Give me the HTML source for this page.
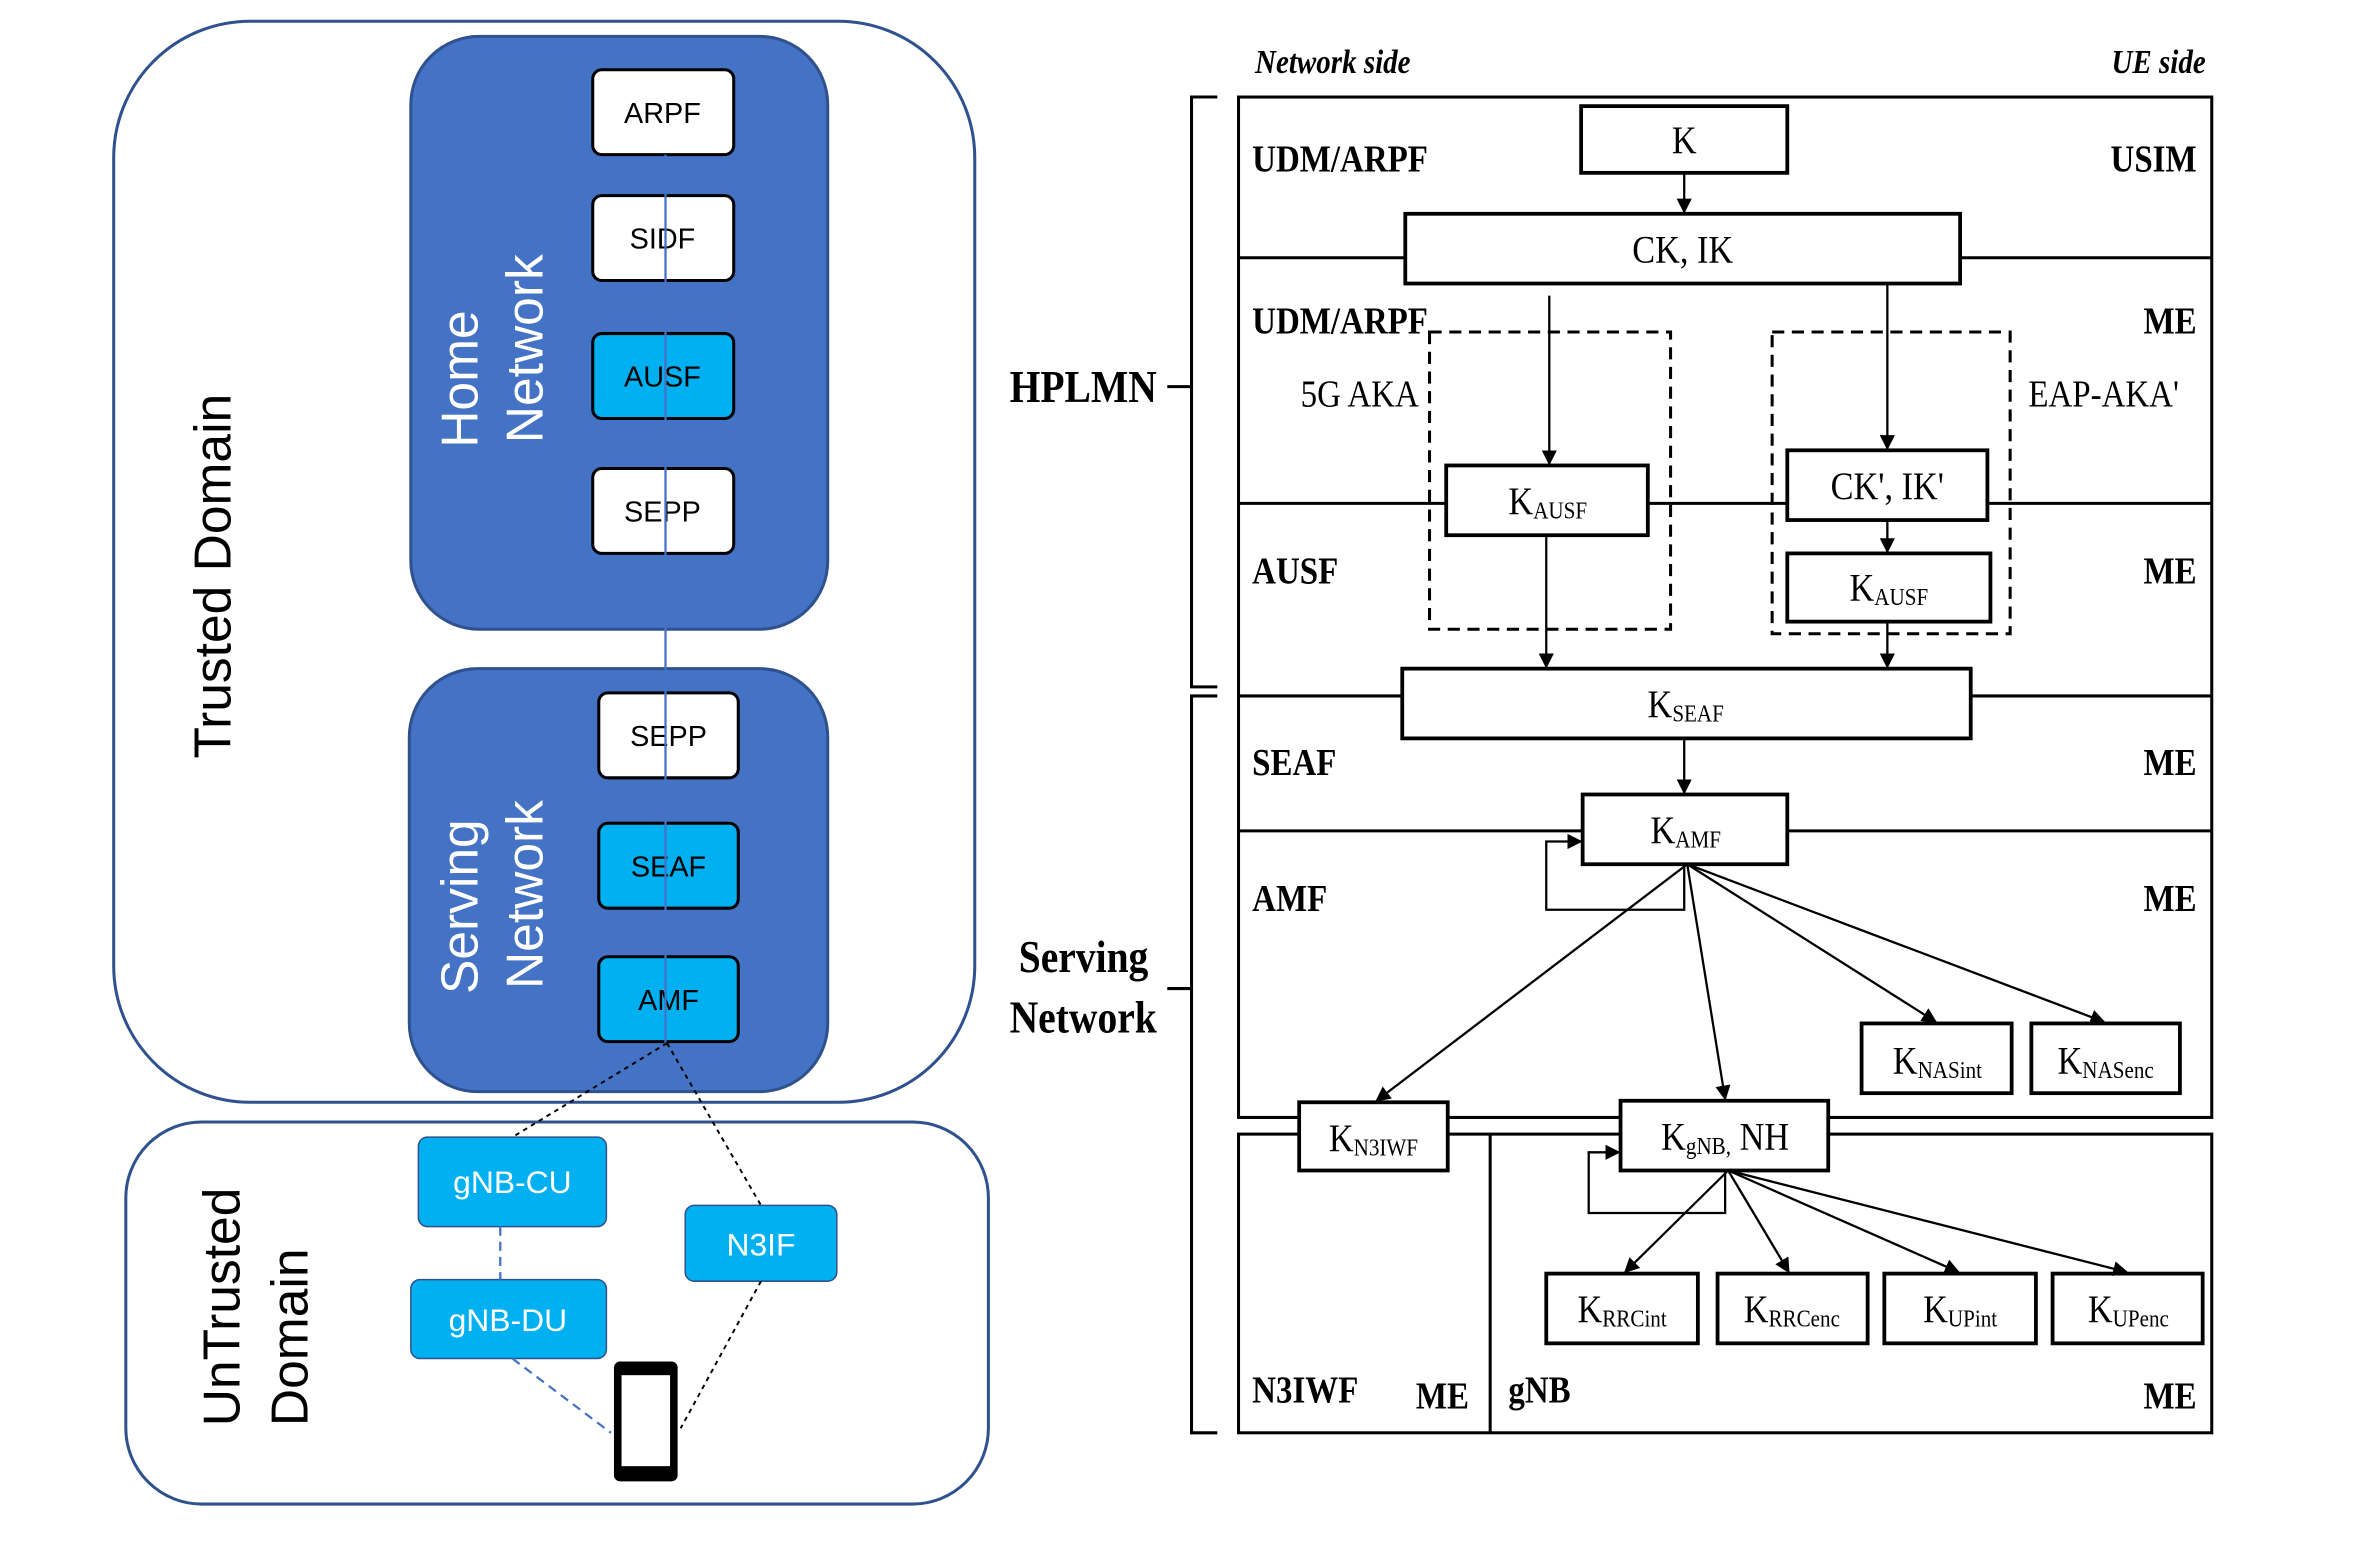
<!DOCTYPE html>
<html><head><meta charset="utf-8"><style>
html,body{margin:0;padding:0;background:#fff;}
svg{display:block;}
.s{font-family:"Liberation Sans",sans-serif;}
.r{font-family:"Liberation Serif",serif;}
.r text{transform-box:fill-box;transform:scaleX(0.87);}
.r text.l{transform-origin:left center;}
.r text.m{transform-origin:center center;}
.r text.e{transform-origin:right center;}
</style></head><body>
<svg width="2377" height="1545" viewBox="0 0 1568 1019" preserveAspectRatio="none" xmlns="http://www.w3.org/2000/svg">
<defs>
<marker id="a" markerWidth="10" markerHeight="10" refX="9" refY="5" orient="auto" markerUnits="userSpaceOnUse"><path d="M0,0 L10,5 L0,10 z" fill="#000"/></marker>
</defs>
<!-- LEFT -->
<rect x="75" y="14" width="568" height="713" rx="90" fill="#fff" stroke="#2F528F" stroke-width="2"/>
<rect x="271" y="24" width="275" height="391" rx="45" fill="#4472C4" stroke="#2F528F" stroke-width="2"/>
<rect x="270" y="441" width="276" height="279" rx="45" fill="#4472C4" stroke="#2F528F" stroke-width="2"/>
<g class="s" font-size="19" text-anchor="middle" stroke-width="2">
<rect x="391" y="46" width="93" height="56" rx="6" fill="#fff" stroke="#000"/><text x="437" y="81">ARPF</text>
<rect x="391" y="129" width="93" height="56" rx="6" fill="#fff" stroke="#000"/><text x="437" y="164">SIDF</text>
<rect x="391" y="220" width="93" height="56" rx="6" fill="#00B0F0" stroke="#000"/><text x="437" y="255">AUSF</text>
<rect x="391" y="309" width="93" height="56" rx="6" fill="#fff" stroke="#000"/><text x="437" y="344">SEPP</text>
<rect x="395" y="457" width="92" height="56" rx="6" fill="#fff" stroke="#000"/><text x="441" y="492">SEPP</text>
<rect x="395" y="543" width="92" height="56" rx="6" fill="#00B0F0" stroke="#000"/><text x="441" y="578">SEAF</text>
<rect x="395" y="631" width="92" height="56" rx="6" fill="#00B0F0" stroke="#000"/><text x="441" y="666">AMF</text>
</g>
<line x1="439" y1="102" x2="439" y2="690" stroke="#4472C4" stroke-width="1.5"/>
<g class="s" fill="#fff" font-size="34" text-anchor="middle">
<text transform="translate(315,250) rotate(-90)">Home</text>
<text transform="translate(358,230) rotate(-90)">Network</text>
<text transform="translate(315,598) rotate(-90)">Serving</text>
<text transform="translate(358,590) rotate(-90)">Network</text>
</g>
<text class="s" font-size="34" text-anchor="middle" transform="translate(152,380) rotate(-90)">Trusted Domain</text>
<rect x="83" y="740" width="569" height="252" rx="50" fill="#fff" stroke="#2F528F" stroke-width="2"/>
<g class="s" font-size="34" text-anchor="middle">
<text transform="translate(158,862) rotate(-90)">UnTrusted</text>
<text transform="translate(203,882) rotate(-90)">Domain</text>
</g>
<g class="s" font-size="21" fill="#fff" text-anchor="middle">
<rect x="276" y="750" width="124" height="59" rx="6" fill="#00B0F0" stroke="#2F528F"/><text x="338" y="787">gNB-CU</text>
<rect x="271" y="844" width="129" height="52" rx="6" fill="#00B0F0" stroke="#2F528F"/><text x="335" y="878">gNB-DU</text>
<rect x="452" y="795" width="100" height="50" rx="6" fill="#00B0F0" stroke="#2F528F"/><text x="502" y="828">N3IF</text>
</g>
<g stroke="#000" stroke-width="1.3" stroke-dasharray="3,3" fill="none">
<line x1="440" y1="688" x2="338" y2="750"/>
<line x1="440" y1="688" x2="502" y2="795"/>
<line x1="502" y1="845" x2="449" y2="942"/>
</g>
<g stroke="#4472C4" stroke-width="1.5" stroke-dasharray="6,4" fill="none">
<line x1="330" y1="809" x2="330" y2="844"/>
<line x1="338" y1="896" x2="403" y2="945"/>
</g>
<rect x="405" y="898" width="42" height="79" rx="4" fill="#000"/>
<rect x="410" y="907" width="32" height="60" fill="#fff"/>
<!-- RIGHT -->
<g class="r" font-style="italic" font-weight="bold" font-size="22">
<text class="l" x="828" y="48">Network side</text>
<text class="e" x="1455" y="48" text-anchor="end">UE side</text>
</g>
<g stroke="#000" stroke-width="2" fill="none">
<rect x="817" y="64" width="642" height="673"/>
<rect x="817" y="748" width="642" height="197"/>
<line x1="983" y1="748" x2="983" y2="945"/>
<line x1="817" y1="170" x2="1459" y2="170"/>
<line x1="817" y1="332" x2="1459" y2="332"/>
<line x1="817" y1="459" x2="925" y2="459"/>
<line x1="1300" y1="459" x2="1459" y2="459"/>
<line x1="817" y1="548" x2="1459" y2="548"/>
<polyline points="803,64 786,64 786,453 803,453"/>
<line x1="770" y1="255" x2="786" y2="255"/>
<polyline points="803,459 786,459 786,945 803,945"/>
<line x1="770" y1="652" x2="786" y2="652"/>
</g>
<g stroke="#000" stroke-width="2" stroke-dasharray="8,5" fill="none">
<rect x="943" y="219" width="159" height="196"/>
<rect x="1169" y="219" width="157" height="199"/>
</g>
<g stroke="#000" stroke-width="2.5" fill="#fff">
<rect x="1043" y="70" width="136" height="44"/>
<rect x="927" y="141" width="366" height="46"/>
<rect x="954" y="307" width="133" height="46"/>
<rect x="1179" y="297" width="132" height="46"/>
<rect x="1179" y="365" width="134" height="45"/>
<rect x="925" y="441" width="375" height="46"/>
<rect x="1044" y="524" width="135" height="46"/>
<rect x="1228" y="675" width="99" height="46"/>
<rect x="1340" y="675" width="98" height="46"/>
<rect x="857" y="727" width="98" height="45"/>
<rect x="1069" y="726" width="137" height="46"/>
<rect x="1020" y="840" width="100" height="46"/>
<rect x="1133" y="840" width="99" height="46"/>
<rect x="1243" y="840" width="100" height="46"/>
<rect x="1354" y="840" width="99" height="46"/>
</g>
<g stroke="#000" stroke-width="1.5" fill="none" marker-end="url(#a)">
<line x1="1111" y1="114" x2="1111" y2="140"/>
<line x1="1022" y1="195" x2="1022" y2="306"/>
<line x1="1245" y1="187" x2="1245" y2="296"/>
<line x1="1245" y1="343" x2="1245" y2="364"/>
<line x1="1020" y1="353" x2="1020" y2="440"/>
<line x1="1245" y1="410" x2="1245" y2="440"/>
<line x1="1111" y1="487" x2="1111" y2="523"/>
<polyline points="1111,570 1111,600 1020,600 1020,555 1043,555"/>
<line x1="1113" y1="570" x2="908" y2="726"/>
<line x1="1113" y1="570" x2="1138" y2="725"/>
<line x1="1113" y1="570" x2="1277" y2="674"/>
<line x1="1113" y1="570" x2="1388" y2="674"/>
<polyline points="1138,772 1138,800 1048,800 1048,760 1068,760"/>
<line x1="1140" y1="772" x2="1072" y2="839"/>
<line x1="1140" y1="772" x2="1180" y2="839"/>
<line x1="1140" y1="772" x2="1292" y2="839"/>
<line x1="1140" y1="772" x2="1403" y2="839"/>
</g>
<g class="r" font-size="26" text-anchor="middle">
<text class="m" x="1111" y="101">K</text>
<text class="m" x="1110" y="173">CK, IK</text>
<text class="m" x="1021" y="339">K<tspan font-size="16" dy="3">AUSF</tspan></text>
<text class="m" x="1245" y="329">CK', IK'</text>
<text class="m" x="1246" y="396">K<tspan font-size="16" dy="3">AUSF</tspan></text>
<text class="m" x="1112" y="473">K<tspan font-size="16" dy="3">SEAF</tspan></text>
<text class="m" x="1112" y="556">K<tspan font-size="16" dy="3">AMF</tspan></text>
<text class="m" x="1278" y="708">K<tspan font-size="16" dy="3">NASint</tspan></text>
<text class="m" x="1389" y="708">K<tspan font-size="16" dy="3">NASenc</tspan></text>
<text class="m" x="906" y="759">K<tspan font-size="16" dy="3">N3IWF</tspan></text>
<text class="m" x="1138" y="758">K<tspan font-size="16" dy="3">gNB,</tspan><tspan dy="-3"> NH</tspan></text>
<text class="m" x="1070" y="872">K<tspan font-size="16" dy="3">RRCint</tspan></text>
<text class="m" x="1182" y="872">K<tspan font-size="16" dy="3">RRCenc</tspan></text>
<text class="m" x="1293" y="872">K<tspan font-size="16" dy="3">UPint</tspan></text>
<text class="m" x="1404" y="872">K<tspan font-size="16" dy="3">UPenc</tspan></text>
</g>
<g class="r" font-size="25" font-weight="bold">
<text class="l" x="826" y="113">UDM/ARPF</text>
<text class="e" x="1449" y="113" text-anchor="end">USIM</text>
<text class="l" x="826" y="220">UDM/ARPF</text>
<text class="e" x="1449" y="220" text-anchor="end">ME</text>
<text class="l" x="826" y="385">AUSF</text>
<text class="e" x="1449" y="385" text-anchor="end">ME</text>
<text class="l" x="826" y="511">SEAF</text>
<text class="e" x="1449" y="511" text-anchor="end">ME</text>
<text class="l" x="826" y="601">AMF</text>
<text class="e" x="1449" y="601" text-anchor="end">ME</text>
<text class="l" x="826" y="925">N3IWF</text>
<text class="e" x="969" y="929" text-anchor="end">ME</text>
<text class="l" x="995" y="925">gNB</text>
<text class="e" x="1449" y="929" text-anchor="end">ME</text>
<text class="l" x="666" y="265" font-size="30">HPLMN</text>
<text class="l" x="672" y="641" font-size="30">Serving</text>
<text class="l" x="666" y="681" font-size="30">Network</text>
</g>
<g class="r" font-size="25">
<text class="l" x="858" y="268">5G AKA</text>
<text class="l" x="1338" y="268">EAP-AKA'</text>
</g>
</svg>
</body></html>
